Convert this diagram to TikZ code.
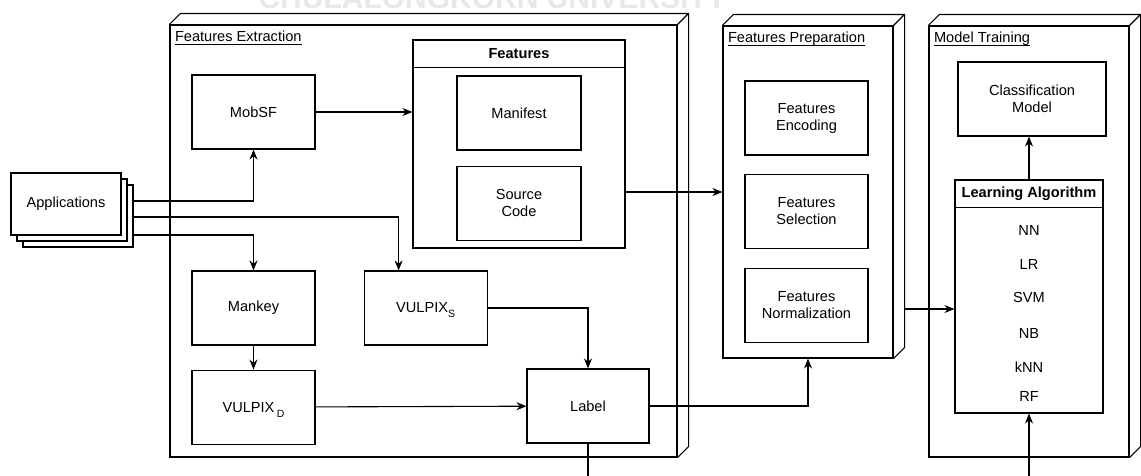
\documentclass[tikz,border=0pt]{standalone}
\usepackage{amsmath}
\usepackage{fontspec}
\setmainfont{Liberation Sans}
\usetikzlibrary{positioning, arrows.meta, shadows}

\begin{document}
\begin{tikzpicture}[
    x=1pt, y=-1pt,
    line width=1.1pt,
    font=\fontsize{14.6}{17}\selectfont,
    block/.style={
        rectangle,
        draw,
        fill=white,
        align=center,
        minimum width=123pt,
        minimum height=74pt
    },
    stage/.style={
        rectangle,
        draw,
        inner sep=0pt
    },
    group/.style={
        rectangle,
        draw,
        fill=white,
        inner sep=0pt
    },
    stagetitle/.style={
        anchor=base west,
        inner sep=0pt
    },
    grouptitle/.style={
        font=\fontsize{14.6}{17}\selectfont\bfseries
    },
    arrow/.style={
        -{Stealth[length=10pt, width=8pt]}
    }
]
\useasboundingbox (0,0) rectangle (1141,475);

\node[anchor=base west, inner sep=0pt, text=black!9,
      font=\fontsize{30}{30}\selectfont\bfseries] (watermark) at (258,8) {CHULALONGKORN UNIVERSITY};

% the three stages
\node[stage, minimum width=507pt, minimum height=432pt] (fe) at (423.5,241) {};
\node[stage, minimum width=170pt, minimum height=332pt] (fp) at (808,192) {};
\node[stage, minimum width=200pt, minimum height=431pt] (mt) at (1029,241.5) {};
\foreach \s in {fe, fp, mt}
    \draw (\s.north west) -- ++(11,-11) -- ([shift={(11pt,11pt)}]\s.north east)
          -- ([shift={(11pt,11pt)}]\s.south east) -- (\s.south east)
          (\s.north east) -- ++(11,-11);

\node[stagetitle] (fetitle) at ([shift={(5pt,-17.5pt)}]fe.north west) {\underline{\smash[b]{Features Extraction}}};
\node[stagetitle] (fptitle) at ([shift={(5pt,-17.5pt)}]fp.north west) {\underline{\smash[b]{Features Preparation}}};
\node[stagetitle] (mttitle) at ([shift={(5pt,-17.5pt)}]mt.north west) {\underline{\smash[b]{Model Training}}};

% input
\node[block, minimum width=110pt, minimum height=62pt,
      double copy shadow={shadow xshift=6pt, shadow yshift=-6pt, draw=black, fill=white, opacity=1}] (apps) at (66,204) {Applications};

% features extraction
\node[block] (mobsf) at (253.5,112) {MobSF};

\node[group, minimum width=212pt, minimum height=208pt] (feat) at (519,144) {};
\draw ([yshift=-28pt]feat.north west) -- ([yshift=-28pt]feat.north east);
\node[grouptitle] (feattitle) at ([yshift=-14pt]feat.north) {Features};
\node[block, minimum width=124pt] (manifest) at (519,113) {Manifest};
\node[block, minimum width=124pt, below=15pt of manifest] (source) {Source\\Code};

\node[block] (mankey) at (253.5,308) {Mankey};
\node[block, below=24pt of mankey] (vulpixd) {VULPIX\,\smash{\raisebox{-5pt}{\fontsize{10.5}{12}\selectfont D}}};
\node[block, right=48pt of mankey] (vulpixs) {VULPIX\smash{\raisebox{-5pt}{\fontsize{10.5}{12}\selectfont S}}};
\node[block, minimum width=122pt] (label) at (588,406) {Label};

% features preparation
\node[block] (encoding) at (806.5,118) {Features\\Encoding};
\node[block, below=18pt of encoding] (selection) {Features\\Selection};
\node[block, below=19pt of selection] (normal) {Features\\Normalization};

% model training
\node[block, minimum width=148pt] (classif) at (1032,99) {Classification\\Model};
\node[group, minimum width=148pt, minimum height=233pt] (learn) at (1029,296.5) {};
\draw ([yshift=-28pt]learn.north west) -- ([yshift=-28pt]learn.north east);
\node[grouptitle] (learntitle) at ([yshift=-14pt]learn.north) {Learning Algorithm};
\foreach \alg/\y in {NN/230, LR/264, SVM/297, NB/333, kNN/367, RF/396}
    \node (alg\alg) at (1029,\y) {\alg};

% connectors
\coordinate (appsa) at ([shift={(12pt,3pt)}]apps.east);
\coordinate (appsb) at ([shift={(12pt,-13pt)}]apps.east);
\coordinate (appsc) at ([shift={(12pt,-31pt)}]apps.east);
\coordinate (fpout) at ([shift={(11pt,-117pt)}]fp.east);

\draw[arrow] (appsa) -| (mobsf.south);
\draw[arrow] (appsb) -| ([xshift=-27pt]vulpixs.north);
\draw[arrow] (appsc) -| (mankey.north);
\draw[arrow] (mobsf.east) -- (mobsf.east -| feat.west);
\draw[arrow] (feat.east |- fp.west) -- (fp.west);
\draw[arrow] (mankey) -- (vulpixd);
\draw[arrow] (vulpixs.east) -| (label.north);
\draw[arrow] (vulpixd) -- (label);
\draw[arrow] (label.east) -| (fp.south);
\draw[arrow] (fpout) -- (fpout -| learn.west);
\draw[arrow] (learn.north) -- (learn.north |- classif.south);
\draw[arrow] (label.south) -- ++(0,50) -| (learn.south);

\end{tikzpicture}
\end{document}
